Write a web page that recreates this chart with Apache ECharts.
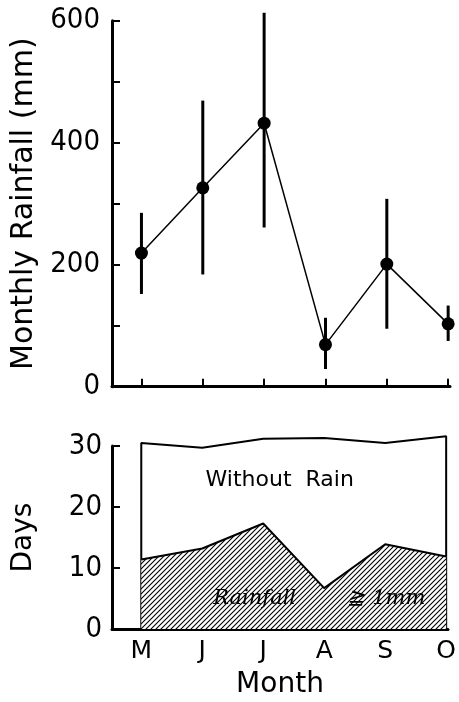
<!DOCTYPE html>
<html>
<head>
<meta charset="utf-8">
<script src="https://cdn.jsdelivr.net/npm/echarts@6/dist/echarts.min.js"></script>
<style>html,body{margin:0;padding:0;background:#fff}#c{width:459px;height:702px}</style>
</head>
<body>
<div id="c"></div>
<script>
// ---- data ----
const months = ['M', 'J', 'J', 'A', 'S', 'O'];
const meanRain = [219, 326, 432, 69, 201, 103];      // mm
const rainHigh = [285, 469, 613, 113, 308, 133];     // error bar top
const rainLow = [152, 184, 261, 29, 95, 75];         // error bar bottom
const totalDays = [30.5, 29.7, 31.2, 31.3, 30.5, 31.6];
const rainDays = [11.4, 13.2, 17.3, 6.7, 13.9, 11.9];
const rainTicks = [0, 200, 400, 600];
const dayTicks = [0, 10, 20, 30];

const idx = months.map((m, i) => i);
const last = months.length - 1;
const numFont = '"DejaVu Sans Condensed", "DejaVu Sans", sans-serif';
const txtFont = '"DejaVu Sans", sans-serif';

// hatch pattern
const hatch = document.createElement('canvas');
hatch.width = 5; hatch.height = 5;
(function () {
  const g = hatch.getContext('2d');
  g.fillStyle = '#fff'; g.fillRect(0, 0, 5, 5);
  g.strokeStyle = '#000'; g.lineWidth = 1.1;
  g.beginPath();
  g.moveTo(-1, 6); g.lineTo(6, -1);
  g.moveTo(-1, 1); g.lineTo(1, -1);
  g.moveTo(4, 6); g.lineTo(6, 4);
  g.stroke();
})();

// total-days outline closed down to the base at both ends
const totalOutline = [[0, 0]].concat(idx.map(i => [i, totalDays[i]]), [[last, 0]]);

const chart = echarts.init(document.getElementById('c'), null, {renderer: 'canvas'});
const axisLine = {show: true, onZero: false, lineStyle: {color: '#000', width: 3}};
const option = {
  animation: false,
  backgroundColor: '#fff',
  grid: [
    {left: 112, right: 9, top: 20.7, height: 366},
    {left: 112, right: 9, top: 446, height: 183}
  ],
  xAxis: [
    {
      type: 'value', gridIndex: 0, min: -0.48, max: 5.03,
      axisLine: axisLine,
      axisTick: {show: true, inside: true, length: 8, customValues: idx, lineStyle: {color: '#000', width: 2}},
      axisLabel: {show: false},
      splitLine: {show: false}
    },
    {
      type: 'value', gridIndex: 1, min: -0.48, max: 5.03,
      axisLine: axisLine,
      axisTick: {show: true, inside: true, length: 4, customValues: idx, lineStyle: {color: '#000', width: 2}},
      axisLabel: {show: true, customValues: idx, formatter: v => months[Math.round(v)] || '',
        fontFamily: txtFont, fontSize: 25, color: '#000', margin: 10},
      splitLine: {show: false},
      name: 'Month', nameLocation: 'middle', nameGap: 42,
      nameTextStyle: {fontFamily: txtFont, fontSize: 28, color: '#000'}
    }
  ],
  yAxis: [
    {
      type: 'value', gridIndex: 0, min: 0, max: 600, interval: 100,
      axisLine: axisLine,
      axisTick: {show: true, inside: true, length: 8, lineStyle: {color: '#000', width: 2}},
      axisLabel: {formatter: v => (rainTicks.indexOf(v) >= 0 ? String(v) : ''),
        fontFamily: numFont, fontSize: 29, color: '#000', margin: 12},
      splitLine: {show: false},
      name: 'Monthly Rainfall (mm)', nameLocation: 'middle', nameGap: 64,
      nameTextStyle: {fontFamily: txtFont, fontSize: 30, color: '#000'}
    },
    {
      type: 'value', gridIndex: 1, min: 0, max: 30, interval: 10,
      axisLine: axisLine,
      axisTick: {show: true, inside: true, length: 8, lineStyle: {color: '#000', width: 2}},
      axisLabel: {formatter: v => (dayTicks.indexOf(v) >= 0 ? String(v) : ''),
        fontFamily: numFont, fontSize: 29, color: '#000', margin: 10},
      splitLine: {show: false},
      name: 'Days', nameLocation: 'middle', nameGap: 74,
      nameTextStyle: {fontFamily: txtFont, fontSize: 28, color: '#000'}
    }
  ],
  series: [
    {
      type: 'custom', xAxisIndex: 0, yAxisIndex: 0, clip: false,
      data: idx.map(i => [i, rainLow[i], rainHigh[i]]),
      renderItem: function (params, api) {
        const a = api.coord([api.value(0), api.value(1)]);
        const b = api.coord([api.value(0), api.value(2)]);
        return {type: 'line', shape: {x1: a[0], y1: a[1], x2: b[0], y2: b[1]},
          style: {stroke: '#000', lineWidth: 3}};
      },
      z: 2
    },
    {
      type: 'line', xAxisIndex: 0, yAxisIndex: 0, clip: false,
      data: idx.map(i => [i, meanRain[i]]),
      symbol: 'circle', symbolSize: 13,
      itemStyle: {color: '#000'},
      lineStyle: {color: '#000', width: 1.5},
      z: 3
    },
    {
      type: 'line', xAxisIndex: 1, yAxisIndex: 1, clip: false,
      data: totalOutline,
      symbol: 'none',
      lineStyle: {color: '#000', width: 2},
      areaStyle: {color: '#fff', opacity: 1},
      markPoint: {
        symbol: 'circle', symbolSize: 0,
        label: {show: true, position: 'inside', color: '#000', fontFamily: txtFont, fontSize: 22},
        data: [{coord: [2.27, 24.3], value: 'Without  Rain', label: {formatter: 'Without  Rain'}}]
      },
      z: 2
    },
    {
      type: 'line', xAxisIndex: 1, yAxisIndex: 1, clip: false,
      data: idx.map(i => [i, rainDays[i]]),
      symbol: 'none',
      lineStyle: {color: '#000', width: 2},
      areaStyle: {color: {image: hatch, repeat: 'repeat'}, opacity: 1},
      markPoint: {
        symbol: 'circle', symbolSize: 0,
        label: {show: true, position: 'inside', color: '#000',
          fontFamily: '"DejaVu Serif", serif', fontStyle: 'italic', fontSize: 21},
        data: [
          {coord: [1.86, 5.0], value: 'Rainfall', label: {formatter: 'Rainfall'}},
          {coord: [4.02, 5.0], value: '≧ 1mm', label: {formatter: '≧ 1mm'}}
        ]
      },
      z: 3
    }
  ]
};
chart.setOption(option);
</script>
</body>
</html>
